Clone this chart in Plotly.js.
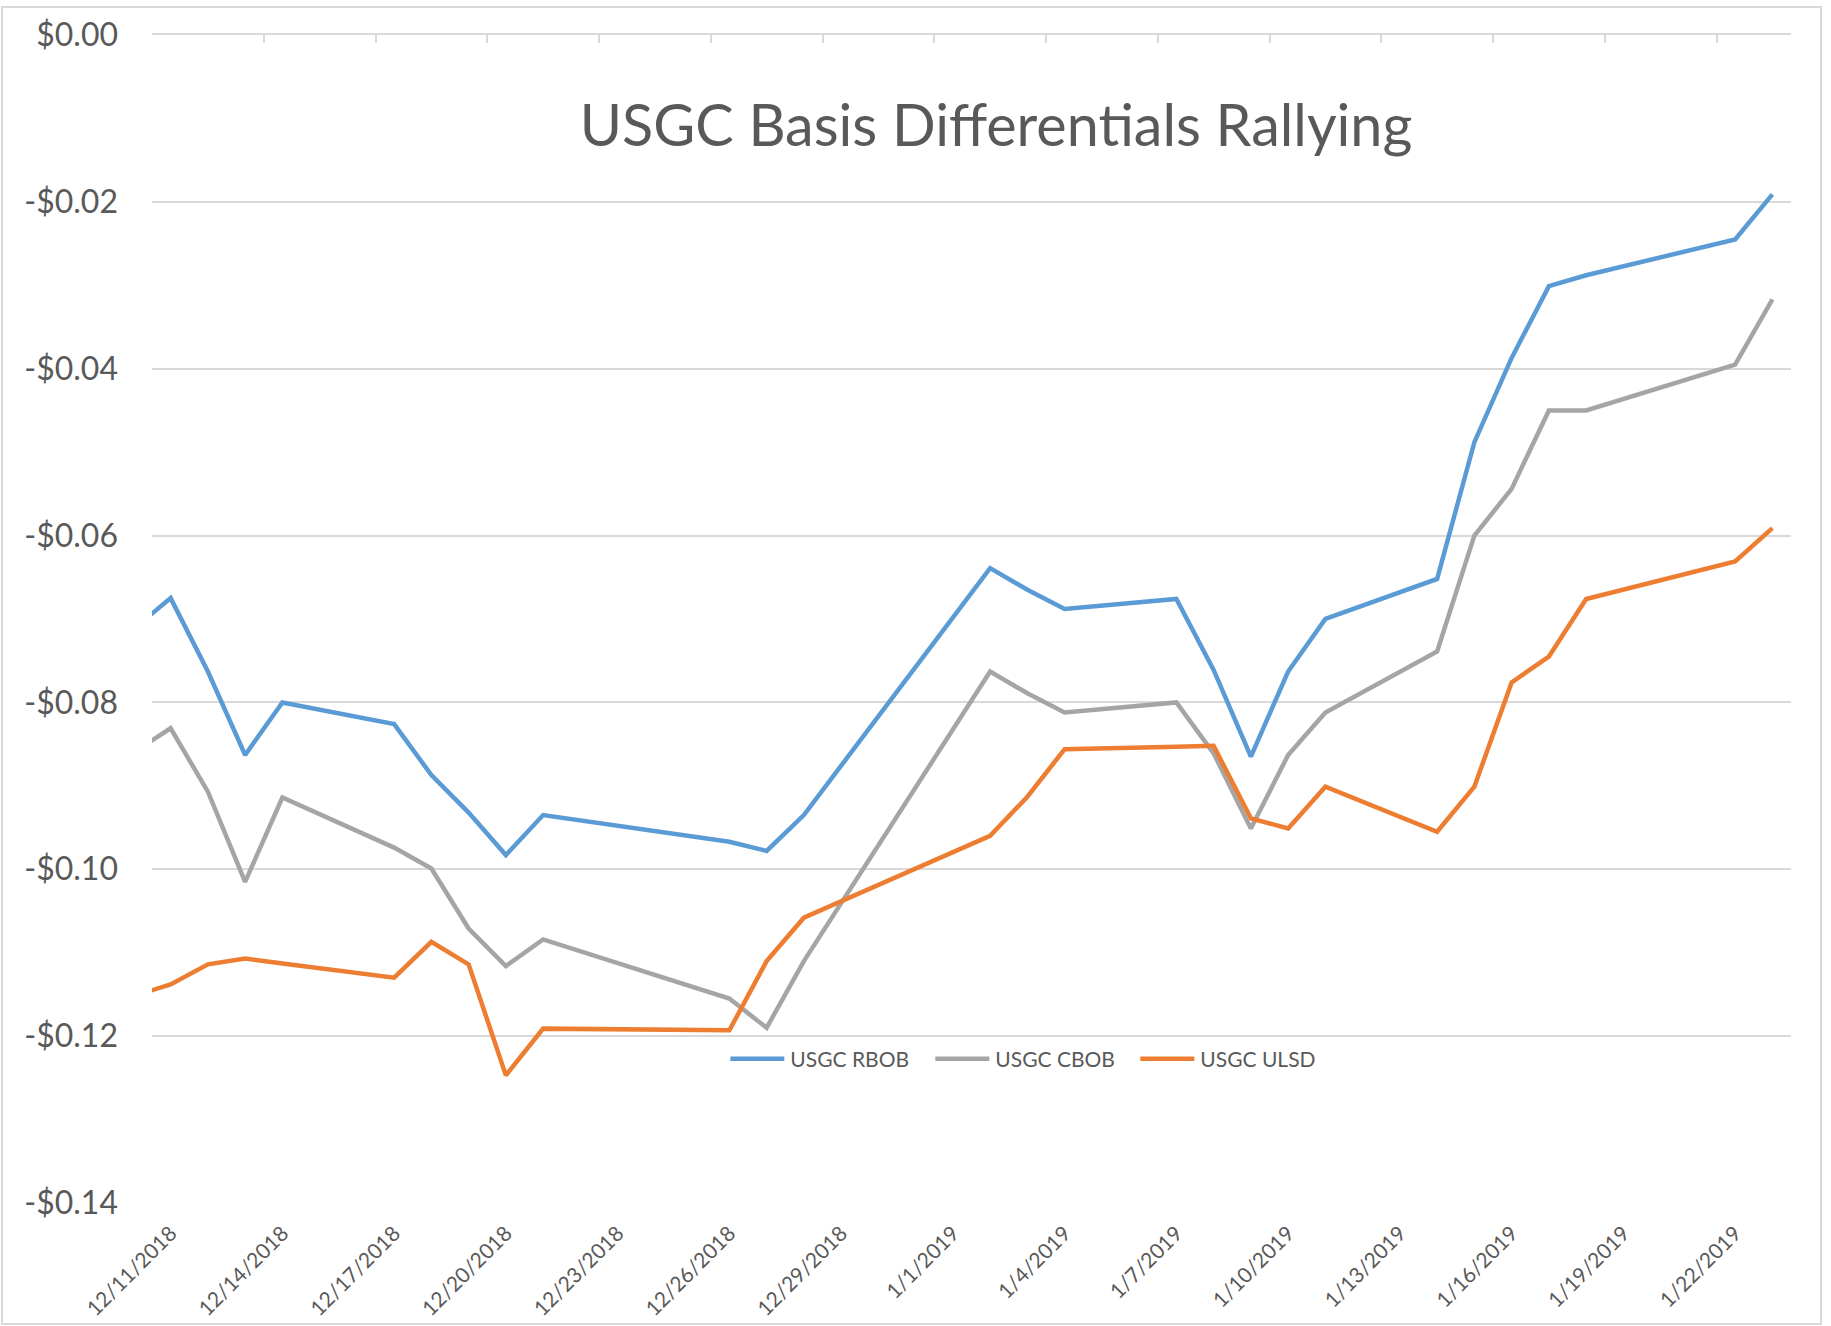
<!DOCTYPE html>
<html>
<head>
<meta charset="utf-8">
<script src="https://cdn.plot.ly/plotly-3.0.1.min.js"></script>
<style>
  html, body { margin: 0; padding: 0; background: #ffffff; }
  #wrap { position: relative; width: 1831px; height: 1326px; }
  #chart { position: absolute; left: 0; top: 0; width: 1831px; height: 1326px; }
  #frame { position: absolute; left: 1px; top: 6px; width: 1817px; height: 1315px; border: 2px solid #d9d9d9; pointer-events: none; }
</style>
</head>
<body>
<div id="wrap">
  <div id="chart"></div>
  <div id="frame"></div>
</div>
<script>
// ---- data ----
const dates = [
  '2018-12-10','2018-12-11','2018-12-12','2018-12-13','2018-12-14',
  '2018-12-17','2018-12-18','2018-12-19','2018-12-20','2018-12-21',
  '2018-12-26','2018-12-27','2018-12-28',
  '2019-01-02','2019-01-03','2019-01-04',
  '2019-01-07','2019-01-08','2019-01-09','2019-01-10','2019-01-11',
  '2019-01-14','2019-01-15','2019-01-16','2019-01-17','2019-01-18',
  '2019-01-22','2019-01-23'
];
const usgcRBOB = [
  -0.0712, -0.0675, -0.0763, -0.0863, -0.0800,
  -0.0826, -0.0887, -0.0932, -0.0983, -0.0935,
  -0.0967, -0.0978, -0.0935,
  -0.0639, -0.0665, -0.0688,
  -0.0676, -0.0761, -0.0865, -0.0763, -0.0700,
  -0.0652, -0.0488, -0.0387, -0.0301, -0.0288,
  -0.0245, -0.0191
];
const usgcCBOB = [
  -0.0860, -0.0831, -0.0907, -0.1015, -0.0914,
  -0.0974, -0.0999, -0.1071, -0.1116, -0.1084,
  -0.1155, -0.1190, -0.1110,
  -0.0763, -0.0789, -0.0812,
  -0.0800, -0.0861, -0.0951, -0.0863, -0.0812,
  -0.0739, -0.0600, -0.0544, -0.0450, -0.0450,
  -0.0395, -0.0317
];
const usgcULSD = [
  -0.1152, -0.1138, -0.1114, -0.1107, -0.1113,
  -0.1130, -0.1087, -0.1114, -0.1247, -0.1191,
  -0.1193, -0.1110, -0.1058,
  -0.0960, -0.0913, -0.0856,
  -0.0853, -0.0852, -0.0939, -0.0951, -0.0901,
  -0.0955, -0.0901, -0.0776, -0.0745, -0.0676,
  -0.0631, -0.0591
];
const seriesNames = ['USGC RBOB', 'USGC CBOB', 'USGC ULSD'];
const xTickDates = [
  '2018-12-11','2018-12-14','2018-12-17','2018-12-20','2018-12-23','2018-12-26','2018-12-29',
  '2019-01-01','2019-01-04','2019-01-07','2019-01-10','2019-01-13','2019-01-16','2019-01-19','2019-01-22'
];
const xTickLabels = [
  '12/11/2018','12/14/2018','12/17/2018','12/20/2018','12/23/2018','12/26/2018','12/29/2018',
  '1/1/2019','1/4/2019','1/7/2019','1/10/2019','1/13/2019','1/16/2019','1/19/2019','1/22/2019'
];
const yTickValues = [0, -0.02, -0.04, -0.06, -0.08, -0.10, -0.12, -0.14];
const yTickLabels = ['$0.00', '-$0.02', '-$0.04', '-$0.06', '-$0.08', '-$0.10', '-$0.12', '-$0.14'];
const titleText = 'USGC Basis Differentials Rallying';

// ---- styling ----
const colors = ['#5B9BD5', '#A5A5A5', '#ED7D31'];
const textColor = '#595959';
const gridColor = '#d9d9d9';
const fontFamily = 'Lato, "Open Sans", sans-serif';
const xRange = ['2018-12-10 12:00', '2019-01-23 12:00'];

const values = [usgcRBOB, usgcCBOB, usgcULSD];
// the last (top-most) series sits on the overlaid top axis, which has the same range
const axisOf = ['x', 'x', 'x2'];
const traces = values.map((v, i) => ({
  type: 'scatter',
  mode: 'lines',
  x: dates,
  y: v,
  xaxis: axisOf[i],
  yaxis: 'y',
  name: seriesNames[i],
  line: { color: colors[i], width: 4.5 },
  hoverinfo: 'skip'
}));

const layout = {
  width: 1831,
  height: 1326,
  paper_bgcolor: '#ffffff',
  plot_bgcolor: '#ffffff',
  margin: { l: 152, r: 40, t: 35, b: 123, pad: 0 },
  font: { family: fontFamily, color: textColor },
  title: {
    text: titleText,
    font: { family: fontFamily, size: 57.5, color: textColor },
    xref: 'container', x: 0.544, xanchor: 'center',
    yref: 'container', y: 0.905, yanchor: 'middle'
  },
  showlegend: true,
  legend: {
    orientation: 'h',
    x: 0.3498, xanchor: 'left',
    y: 0.1233, yanchor: 'middle',
    font: { family: fontFamily, size: 21, color: textColor },
    bgcolor: 'rgba(0,0,0,0)',
    itemwidth: 55,
    entrywidth: 135, entrywidthmode: 'pixels',
    traceorder: 'normal'
  },
  xaxis: {
    type: 'date',
    range: xRange,
    tickmode: 'array',
    tickvals: xTickDates,
    ticktext: xTickLabels,
    tickangle: -45,
    ticks: '',
    showline: false,
    showgrid: false,
    zeroline: false,
    ticklabelstandoff: 13,
    tickfont: { family: fontFamily, size: 21, color: textColor },
    fixedrange: true
  },
  xaxis2: {
    type: 'date',
    overlaying: 'x',
    anchor: 'y',
    side: 'top',
    range: xRange,
    tickmode: 'linear',
    tick0: '2018-12-10 12:00',
    dtick: 3 * 86400000,
    ticks: 'inside',
    ticklen: 8,
    tickwidth: 2,
    tickcolor: gridColor,
    showticklabels: false,
    showline: true,
    linecolor: gridColor,
    linewidth: 2,
    showgrid: false,
    zeroline: false,
    fixedrange: true
  },
  yaxis: {
    range: [-0.14, 0],
    tickmode: 'array',
    tickvals: yTickValues,
    ticktext: yTickLabels,
    ticks: '',
    showline: false,
    showgrid: true,
    gridcolor: gridColor,
    gridwidth: 2,
    zeroline: false,
    ticklabelstandoff: 33,
    tickfont: { family: fontFamily, size: 32, color: textColor },
    fixedrange: true
  }
};

Plotly.newPlot('chart', traces, layout, { displayModeBar: false, staticPlot: true }).then(function (gd) {
  // lengthen the legend line samples to match the reference
  gd.querySelectorAll('.legendlines path').forEach(function (p) {
    p.setAttribute('d', 'M5,0h54');
  });
});
</script>
</body>
</html>
